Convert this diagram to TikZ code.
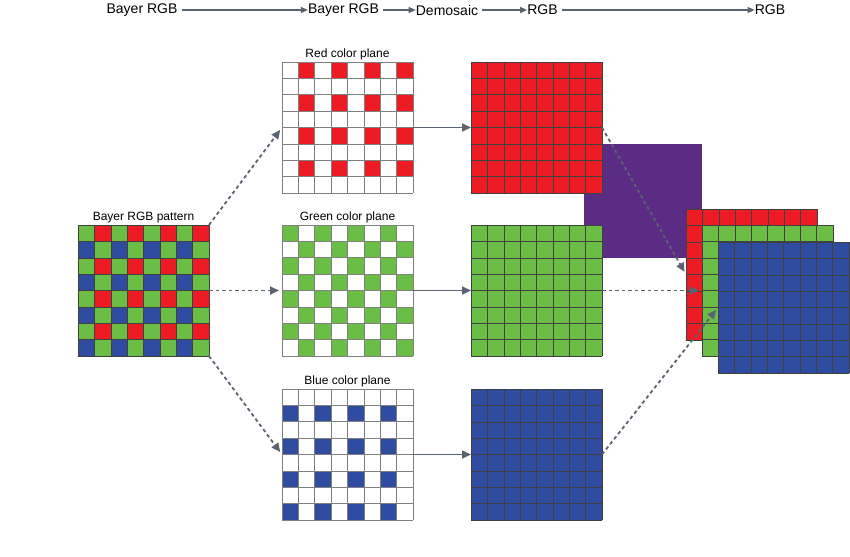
\documentclass[tikz,border=0pt]{standalone}
\usepackage{fontspec}
\setmainfont{Liberation Sans}
\usetikzlibrary{calc, arrows.meta, positioning}

\definecolor{bred}{RGB}{237,28,36}
\definecolor{bgreen}{RGB}{106,189,69}
\definecolor{bblue}{RGB}{47,76,160}
\definecolor{bpurple}{RGB}{91,44,131}
\definecolor{slate}{RGB}{90,99,114}

\def\cs{16.375}
% colour every second cell, starting at row #3 and column #4
\newcommand\fillcells[4]{%
  \foreach \i in {0,...,3}
    \foreach \j in {0,...,3}
      \fill[#2] ($(#1.north west)+({(2*\j+#4)*\cs},{(2*\i+#3)*\cs})$) rectangle +(\cs,\cs);}
\newcommand\gridlines[2]{%
  \foreach \k in {0,...,8} {
    \draw[#2] ($(#1.north west)+(\k*\cs,0)$) -- +(0,131);
    \draw[#2] ($(#1.north west)+(0,\k*\cs)$) -- +(131,0);}}

\begin{document}
\begin{tikzpicture}[x=1pt,y=-1pt,
  grid/.style={minimum width=131pt,minimum height=131pt,inner sep=0,outer sep=0,anchor=north west},
  lab/.style={font=\fontsize{12}{14}\selectfont,inner sep=1pt},
  toplab/.style={font=\fontsize{14}{16}\selectfont,inner sep=0},
  topline/.style={slate,line width=1.3pt,-{Triangle[length=7pt,width=6pt]}},
  dasharrow/.style={slate,line width=1.8pt,dash pattern=on 3.5pt off 3pt,-{Triangle[length=9pt,width=8pt]},shorten >=3pt},
  fullarrow/.style={slate,line width=1.6pt,-{Triangle[length=9pt,width=8pt]}},
  darkline/.style={black!75,line width=0.5pt},
  greyline/.style={black!50,line width=0.6pt}]
  \useasboundingbox (0,0) rectangle (850,556);

  % top row
  \node[toplab] (t1) at (142,10) {Bayer RGB};
  \node[toplab] (t2) at (343.5,10) {Bayer RGB};
  \node[toplab] (t3) at (447,10) {Demosaic};
  \node[toplab] (t4) at (542.5,10) {RGB};
  \node[toplab] (t5) at (770,10) {RGB};
  \foreach \s/\t in {t1/t2, t2/t3, t3/t4, t4/t5} {
   \draw[topline,shorten <=4pt] (\s.east) -- (\t.west);}

  % sensor pattern
  \node[grid] (bayer) at (78,225) {};
  \fill[bgreen] (bayer.north west) rectangle (bayer.south east);
  \fillcells{bayer}{bred}{0}{1}
  \fillcells{bayer}{bblue}{1}{0}
  \gridlines{bayer}{darkline}
  \node[lab,above=1pt of bayer] {Bayer RGB pattern};

  % colour planes
  \node[grid] (rplane) at (282,62) {};
  \fillcells{rplane}{bred}{0}{1}
  \gridlines{rplane}{greyline}
  \node[lab,above=1pt of rplane] {Red color plane};

  \node[grid] (gplane) at (282,225) {};
  \fillcells{gplane}{bgreen}{0}{0}
  \fillcells{gplane}{bgreen}{1}{1}
  \gridlines{gplane}{greyline}
  \node[lab,above=1pt of gplane] {Green color plane};

  \node[grid] (bplane) at (282,389) {};
  \fillcells{bplane}{bblue}{1}{0}
  \gridlines{bplane}{greyline}
  \node[lab,above=1pt of bplane] {Blue color plane};

  % demosaiced planes
  \node[fill=bpurple,inner sep=0,minimum width=118pt,minimum height=114pt,anchor=north west] (merge) at (584,144) {};
  \foreach \c/\col/\y in {r/bred/62, g/bgreen/225, b/bblue/389} {
    \node[grid] (\c full) at (471,\y) {};
    \fill[\col] (\c full.north west) rectangle (\c full.south east);
    \gridlines{\c full}{darkline}
  }

  % stacked result
  \foreach \c/\col/\x/\y in {r/bred/686/209, g/bgreen/702/225, b/bblue/718/242} {
    \node[grid] (\c stack) at (\x,\y) {};
    \fill[\col] (\c stack.north west) rectangle (\c stack.south east);
    \gridlines{\c stack}{darkline}
  }

  \foreach \s/\t in {bayer.north east/rplane.west, bayer.east/gplane.west,
    bayer.south east/bplane.west, rfull.east/rstack.west,
    gfull.east/gstack.west, bfull.east/bstack.west} {
   \draw[dasharrow] (\s) -- (\t);}
  \foreach \c in {r,g,b} {
   \draw[fullarrow] (\c plane.east) -- (\c full.west);}
\end{tikzpicture}
\end{document}
